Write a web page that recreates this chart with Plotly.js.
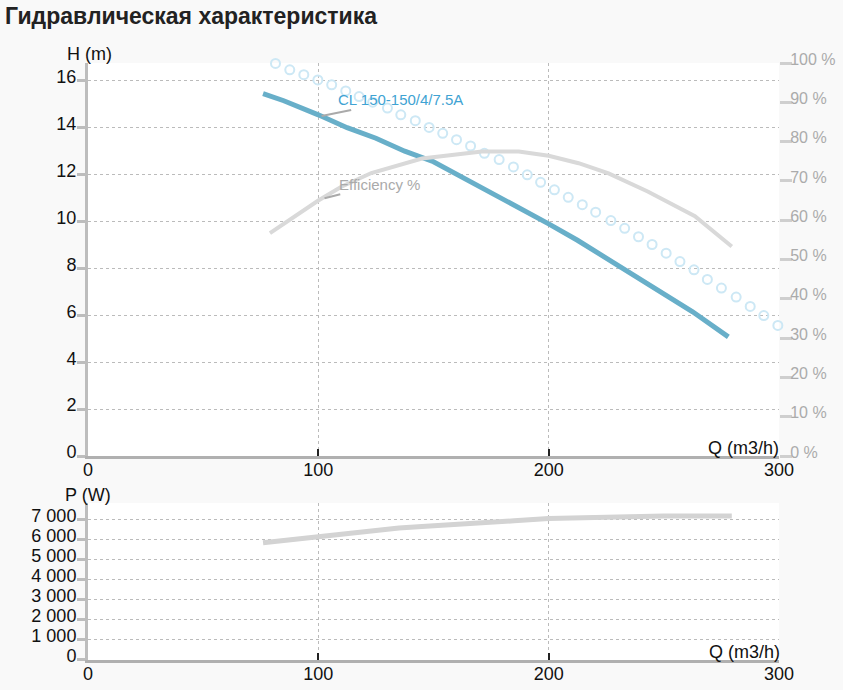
<!DOCTYPE html>
<html>
<head>
<meta charset="utf-8">
<script src="https://cdn.plot.ly/plotly-3.0.1.min.js"></script>
<style>
  body { margin: 0; background: #f9f9f9; }
  #chart { width: 843px; height: 690px; }
</style>
</head>
<body>
<div id="chart"></div>
<script>
// head curve H(Q)
var headQ = [76, 85, 100, 112.5, 125, 137.5, 150, 162.5, 175, 187.5, 200, 212.5, 225, 237.5, 250, 262.5, 278];
var headH = [15.45, 15.15, 14.55, 14.0, 13.55, 13.0, 12.55, 11.9, 11.2, 10.55, 9.9, 9.2, 8.45, 7.7, 6.95, 6.15, 5.08];

// open circles (upper curve)
var dotQ = [81.4, 87.6, 93.7, 99.8, 105.8, 111.9, 117.7, 123.6, 130.0, 135.8, 142.1, 148.1, 154.0,
            160.0, 166.1, 172.1, 178.5, 184.7, 190.7, 196.5, 202.5, 208.5, 214.6, 220.4, 227.0,
            233.0, 239.0, 244.9, 251.0, 257.0, 263.1, 268.9, 275.0, 281.4, 287.5, 293.4, 299.5];
var dotH = [16.74, 16.47, 16.26, 16.04, 15.83, 15.57, 15.33, 15.09, 14.84, 14.55, 14.30, 14.01, 13.76,
            13.49, 13.22, 12.91, 12.64, 12.33, 11.99, 11.67, 11.35, 11.03, 10.72, 10.40, 10.04,
            9.71, 9.35, 9.02, 8.65, 8.29, 7.94, 7.53, 7.16, 6.78, 6.38, 5.99, 5.57];

// efficiency %
var effQ = [79, 90, 100, 110, 123, 145, 160, 171, 187, 200, 213, 226, 243, 263.5, 279.5];
var effE = [56.7, 60.9, 65, 68.5, 72, 75.7, 76.8, 77.5, 77.5, 76.4, 74.5, 71.9, 67.3, 61, 53.3];

// power P(Q)
var powQ = [76, 90, 100, 110, 121, 135, 145, 160, 174, 185, 200, 215, 229, 250, 279.5];
var powP = [5860, 6030, 6160, 6290, 6460, 6600, 6670, 6800, 6880, 6960, 7080, 7120, 7200, 7200, 7200];

var qTicks = [0, 100, 200, 300];
var pumpName = 'CL 150-150/4/7.5A';
var effName = 'Efficiency %';

var FONT = '"Liberation Sans", Arial, sans-serif';
var AXIS_GRAY = '#bdbdbd';

var traces = [
  {x: dotQ, y: dotH, type: 'scatter', mode: 'markers', xaxis: 'x', yaxis: 'y',
   marker: {symbol: 'circle-open', size: 9, line: {width: 2, color: '#cde8f5'}, color: '#cde8f5'},
   cliponaxis: false, hoverinfo: 'skip'},
  {x: effQ, y: effE, type: 'scatter', mode: 'lines', xaxis: 'x', yaxis: 'y2',
   line: {color: '#d9d9d9', width: 4}, hoverinfo: 'skip'},
  {x: headQ, y: headH, type: 'scatter', mode: 'lines', xaxis: 'x', yaxis: 'y',
   line: {color: '#68afc9', width: 5}, hoverinfo: 'skip'},
  {x: powQ, y: powP, type: 'scatter', mode: 'lines', xaxis: 'x2', yaxis: 'y3',
   line: {color: '#d3d3d3', width: 5}, hoverinfo: 'skip'}
];

function xAxis(anchor) {
  return {
    anchor: anchor, domain: [0, 1], range: [0, 300],
    tickvals: qTicks, ticks: 'inside', ticklen: 7, tickwidth: 2, tickcolor: '#222',
    ticklabelstandoff: -5,
    showline: true, linecolor: '#b0b0b0', linewidth: 3,
    showgrid: true, gridcolor: '#bbb', griddash: 'dot', gridwidth: 1,
    zeroline: false, tickfont: {size: 18, color: '#111', family: FONT}
  };
}

function leftAxis(domain, range, dtick, anchor) {
  return {
    anchor: anchor, domain: domain, range: range, dtick: dtick,
    ticks: 'outside', ticklen: 8, tickwidth: 3, tickcolor: AXIS_GRAY,
    showline: true, linecolor: AXIS_GRAY, linewidth: 3,
    showgrid: true, gridcolor: '#bbb', griddash: 'dot', gridwidth: 1,
    zeroline: false, ticklabelshift: -4, ticklabelstandoff: -3,
    separatethousands: true,
    tickfont: {size: 18, color: '#111', family: FONT}
  };
}

// inner halves of the tick marks (ticks cross the axis line)
function innerTicks(over, side, range, dtick, len, anchor) {
  return {
    overlaying: over, side: side, anchor: anchor, range: range, dtick: dtick,
    ticks: 'inside', ticklen: len, tickwidth: 3, tickcolor: side === 'right' ? '#cfcfcf' : AXIS_GRAY,
    showticklabels: false, showgrid: false, showline: false, zeroline: false
  };
}

var topDom = [0.3417, 1];
var botDom = [0, 0.263];
var hRange = [0, 16.76];
var pRange = [0, 7850];

var layout = {
  width: 843, height: 690,
  margin: {l: 88, r: 64, t: 63, b: 30},
  paper_bgcolor: '#f9f9f9', plot_bgcolor: '#ffffff',
  separators: ', ',
  showlegend: false,
  font: {family: FONT, color: '#111'},
  title: {
    text: '<b>Гидравлическая характеристика</b>',
    xref: 'container', yref: 'container', x: 5 / 843, xanchor: 'left',
    y: 1 - 16 / 690, yanchor: 'middle',
    font: {size: 23, color: '#222', family: FONT}
  },
  xaxis: xAxis('y'),
  xaxis2: xAxis('y3'),
  yaxis: leftAxis(topDom, hRange, 2, 'x'),
  yaxis2: {
    overlaying: 'y', side: 'right', anchor: 'x', range: [0, 100], dtick: 10,
    ticks: 'outside', ticklen: 12, tickwidth: 3, tickcolor: '#cfcfcf',
    ticksuffix: ' %', ticklabelshift: -4, ticklabelstandoff: -5,
    showline: false, showgrid: false, zeroline: false,
    tickfont: {size: 16, color: '#ababab', family: FONT}
  },
  yaxis3: leftAxis(botDom, pRange, 1000, 'x2'),
  yaxis4: innerTicks('y', 'left', hRange, 2, 9, 'x'),
  yaxis5: innerTicks('y', 'right', [0, 100], 10, 4, 'x'),
  yaxis6: innerTicks('y3', 'left', pRange, 1000, 9, 'x2'),
  annotations: [
    {text: 'H (m)', xref: 'x domain', yref: 'y domain', x: 0, y: 1, xanchor: 'center', yanchor: 'bottom',
     xshift: 1, yshift: -3, showarrow: false, font: {size: 18, color: '#111'}},
    {text: 'P (W)', xref: 'x2 domain', yref: 'y3 domain', x: 0, y: 1, xanchor: 'center', yanchor: 'bottom',
     xshift: 0, yshift: -4, showarrow: false, font: {size: 18, color: '#111'}},
    {text: 'Q (m3/h)', xref: 'x domain', yref: 'y domain', x: 1, y: 0, xanchor: 'right', yanchor: 'bottom',
     xshift: 2, yshift: -4, showarrow: false, font: {size: 18, color: '#111'}},
    {text: 'Q (m3/h)', xref: 'x2 domain', yref: 'y3 domain', x: 1, y: 0, xanchor: 'right', yanchor: 'bottom',
     xshift: 3, yshift: -4, showarrow: false, font: {size: 18, color: '#111'}},
    {text: pumpName, xref: 'x', yref: 'y', x: 101.4, y: 14.5, ax: 79, ay: -16,
     showarrow: true, arrowhead: 0, arrowwidth: 2, arrowcolor: '#aaa', standoff: 0,
     font: {size: 15, color: '#3fa3d3'}},
    {text: effName, xref: 'x', yref: 'y2', x: 102.7, y: 65.6, ax: 55, ay: -14,
     showarrow: true, arrowhead: 0, arrowwidth: 2, arrowcolor: '#aaa', standoff: 0,
     font: {size: 15, color: '#aaa'}}
  ]
};

Plotly.newPlot('chart', traces, layout, {displayModeBar: false, staticPlot: true});
</script>
</body>
</html>
